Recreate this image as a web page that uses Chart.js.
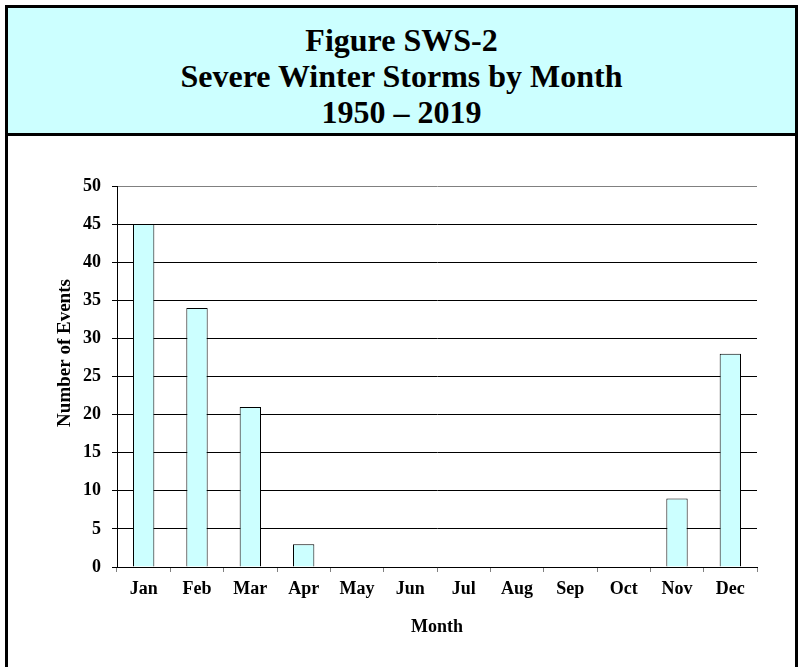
<!DOCTYPE html>
<html>
<head>
<meta charset="utf-8">
<script src="https://cdn.jsdelivr.net/npm/chart.js@4/dist/chart.umd.min.js"></script>
<style>
  body { margin: 0; width: 800px; height: 667px; overflow: hidden; background: #fff; }
  #chart { position: absolute; left: 0; top: 0; }
  .frame {
    position: absolute; left: 5px; top: 5px; width: 793px; height: 700px;
    border: 3px solid #000; box-sizing: border-box; pointer-events: none;
  }
  .title {
    height: 128px; box-sizing: border-box; border-bottom: 3px solid #000;
    background: #ccffff; text-align: center; padding-top: 13.5px;
    font: bold 32px "Liberation Serif", "Times New Roman", serif; line-height: 36px; color: #000;
  }
</style>
</head>
<body>
<canvas id="chart" width="800" height="667"></canvas>
<div class="frame">
  <div class="title">Figure SWS-2<br>Severe Winter Storms by Month<br>1950 – 2019</div>
</div>
<script>
const months = ["Jan", "Feb", "Mar", "Apr", "May", "Jun", "Jul", "Aug", "Sep", "Oct", "Nov", "Dec"]
const events = [45, 34, 21, 3, 0, 0, 0, 0, 0, 0, 9, 28]
const yMin = 0
const yMax = 50
const yStep = 5
const yTitle = "Number of Events"

const serif = "'Liberation Serif', 'Times New Roman', serif"

// y axis title sits a bit above the middle of the axis in the original, so draw it by hand
const yTitlePlugin = {
  id: "yTitle",
  afterDraw(chart) {
    const ctx = chart.ctx
    ctx.save()
    ctx.translate(65.5, 353)
    ctx.rotate(-Math.PI / 2)
    ctx.font = "bold 19px " + serif
    ctx.fillStyle = "#000"
    ctx.textAlign = "center"
    ctx.textBaseline = "middle"
    ctx.fillText(yTitle, 0, 0)
    ctx.restore()
  },
}

new Chart(document.getElementById("chart"), {
  type: "bar",
  data: {
    labels: months,
    datasets: [
      {
        label: yTitle,
        data: events,
        backgroundColor: "#ccffff",
        borderColor: "#000",
        borderWidth: 1,
        barPercentage: 0.4,
        categoryPercentage: 1,
      },
    ],
  },
  options: {
    responsive: false,
    animation: false,
    layout: { padding: { top: 186, right: 43, bottom: 0, left: 0 } },
    plugins: { legend: { display: false }, tooltip: { enabled: false } },
    scales: {
      x: {
        afterFit: (scale) => { scale.height = 100 },
        grid: {
          offset: true,
          color: (ctx) => (ctx.index === months.length ? "#808080" : "transparent"),
          tickColor: "#808080",
          tickLength: 5,
        },
        border: { color: "#000" },
        ticks: { color: "#000", padding: 7, font: { family: serif, size: 18, weight: "bold" } },
        title: {
          display: true,
          text: "Month",
          color: "#000",
          font: { family: serif, size: 18, weight: "bold" },
          padding: { top: 0, bottom: 29 },
        },
      },
      y: {
        min: yMin,
        max: yMax,
        afterFit: (scale) => { scale.width = 117 },
        grid: {
          color: (ctx) => (ctx.tick && ctx.tick.value === yMax ? "#808080" : "#000"),
          tickColor: "#000",
          tickLength: 5,
        },
        border: { color: "#000" },
        ticks: { stepSize: yStep, color: "#000", padding: 11, font: { family: serif, size: 18, weight: "bold" } },
      },
    },
  },
  plugins: [yTitlePlugin],
})
</script>
</body>
</html>
